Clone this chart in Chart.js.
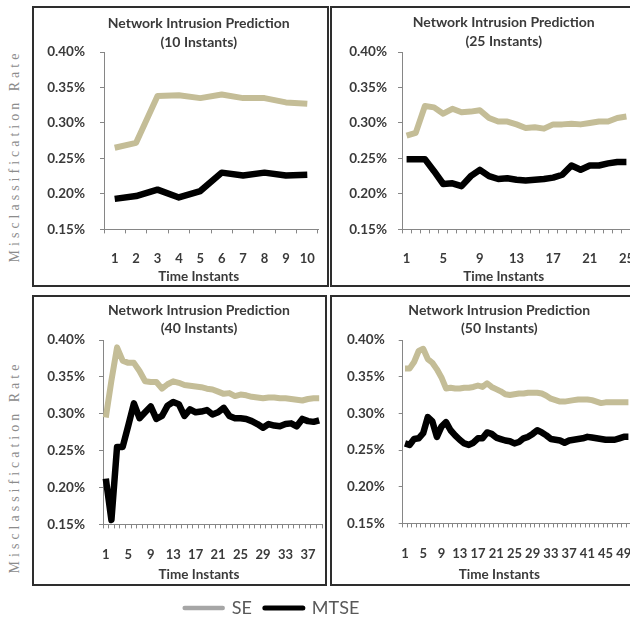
<!DOCTYPE html>
<html>
<head>
<meta charset="utf-8">
<script src="https://cdn.jsdelivr.net/npm/chart.js@4/dist/chart.umd.min.js"></script>
<style>
  html, body { margin: 0; padding: 0; background: #fff; overflow: hidden; }
  #page { position: relative; width: 630px; height: 620px; overflow: hidden; background: #fff; }
  .frame { position: absolute; box-sizing: border-box; border: 2px solid #2e2e2e; pointer-events: none; z-index: 2; }
  canvas.cv { position: absolute; z-index: 1; }
  .ylab {
    position: absolute; white-space: nowrap;
    font-family: "Liberation Serif", "DejaVu Serif", serif; font-size: 14px; letter-spacing: 4px;
    color: #8c8c8c; transform: translate(-50%, -50%) rotate(-90deg);
  }
</style>
</head>
<body>
<div id="page">
  <div class="ylab" style="left:15px; top:156px;">Misclassification Rate</div>
  <div class="ylab" style="left:15px; top:467px;">Misclassification Rate</div>

  <div class="frame" style="left:32px; top:6px; width:297px; height:281px;"></div>
  <div class="frame" style="left:330px; top:6px; width:330px; height:281px;"></div>
  <div class="frame" style="left:32px; top:295px; width:295px; height:291px;"></div>
  <div class="frame" style="left:330px; top:295px; width:330px; height:291px;"></div>

  <canvas class="cv" id="c10" style="left:35px; top:8px;"></canvas>
  <canvas class="cv" id="c25" style="left:333px; top:8px;"></canvas>
  <canvas class="cv" id="c40" style="left:35px; top:297px;"></canvas>
  <canvas class="cv" id="c50" style="left:333px; top:297px;"></canvas>
  <canvas class="cv" id="legend" width="630" height="100" style="left:0px; top:586px;"></canvas>
</div>

<script>
// Time instants on each horizontal axis
const instants10 = [1, 2, 3, 4, 5, 6, 7, 8, 9, 10];
const instants25 = [1, 2, 3, 4, 5, 6, 7, 8, 9, 10, 11, 12, 13, 14, 15, 16, 17, 18, 19, 20, 21, 22, 23, 24, 25];
const instants40 = [1, 2, 3, 4, 5, 6, 7, 8, 9, 10, 11, 12, 13, 14, 15, 16, 17, 18, 19, 20,
                    21, 22, 23, 24, 25, 26, 27, 28, 29, 30, 31, 32, 33, 34, 35, 36, 37, 38, 39];
const instants50 = [1, 2, 3, 4, 5, 6, 7, 8, 9, 10, 11, 12, 13, 14, 15, 16, 17, 18, 19, 20,
                    21, 22, 23, 24, 25, 26, 27, 28, 29, 30, 31, 32, 33, 34, 35, 36, 37, 38, 39, 40,
                    41, 42, 43, 44, 45, 46, 47, 48, 49, 50];

// Misclassification rate (%) – SE
const se10 = [0.265, 0.272, 0.338, 0.339, 0.335, 0.340, 0.335, 0.335, 0.329, 0.327];
const se25 = [0.282, 0.286, 0.324, 0.322, 0.313, 0.320, 0.315, 0.316, 0.318, 0.307,
              0.302, 0.302, 0.298, 0.293, 0.294, 0.292, 0.298, 0.298, 0.299, 0.298,
              0.300, 0.302, 0.302, 0.307, 0.309];
const se40 = [0.295, 0.345, 0.390, 0.372, 0.369, 0.369, 0.358, 0.344, 0.343, 0.343,
              0.334, 0.340, 0.344, 0.342, 0.339, 0.338, 0.337, 0.336, 0.334, 0.333,
              0.330, 0.327, 0.328, 0.324, 0.326, 0.325, 0.323, 0.322, 0.321, 0.322,
              0.322, 0.321, 0.321, 0.320, 0.319, 0.318, 0.320, 0.321, 0.321];
const se50 = [0.361, 0.361, 0.370, 0.385, 0.388, 0.374, 0.369, 0.360, 0.349, 0.334,
              0.335, 0.334, 0.334, 0.335, 0.335, 0.336, 0.338, 0.336, 0.341, 0.336,
              0.333, 0.330, 0.326, 0.325, 0.326, 0.327, 0.327, 0.328, 0.328, 0.328,
              0.327, 0.324, 0.320, 0.318, 0.316, 0.316, 0.317, 0.318, 0.319, 0.319,
              0.319, 0.318, 0.316, 0.314, 0.315, 0.315, 0.315, 0.315, 0.315, 0.315];

// Misclassification rate (%) – MTSE
const mtse10 = [0.193, 0.197, 0.206, 0.195, 0.204, 0.230, 0.226, 0.230, 0.226, 0.227];
const mtse25 = [0.249, 0.249, 0.249, 0.232, 0.214, 0.215, 0.211, 0.225, 0.234, 0.225,
                0.221, 0.222, 0.220, 0.219, 0.220, 0.221, 0.223, 0.227, 0.240, 0.234,
                0.240, 0.240, 0.243, 0.245, 0.245];
const mtse40 = [0.212, 0.156, 0.255, 0.255, 0.284, 0.314, 0.294, 0.302, 0.310, 0.293,
                0.297, 0.311, 0.316, 0.313, 0.297, 0.306, 0.302, 0.303, 0.305, 0.299,
                0.302, 0.308, 0.297, 0.294, 0.294, 0.293, 0.290, 0.286, 0.281, 0.286,
                0.284, 0.283, 0.286, 0.287, 0.283, 0.293, 0.290, 0.289, 0.291];
const mtse50 = [0.259, 0.257, 0.265, 0.266, 0.273, 0.295, 0.289, 0.268, 0.282, 0.288,
                0.277, 0.270, 0.264, 0.259, 0.257, 0.260, 0.266, 0.266, 0.274, 0.272,
                0.267, 0.265, 0.263, 0.262, 0.259, 0.261, 0.266, 0.268, 0.272, 0.277,
                0.274, 0.270, 0.265, 0.264, 0.263, 0.260, 0.263, 0.264, 0.265, 0.266,
                0.268, 0.267, 0.266, 0.265, 0.264, 0.264, 0.264, 0.266, 0.268, 0.268];

// Value axis ticks (%)
const rateTicks = [0.15, 0.20, 0.25, 0.30, 0.35, 0.40];

const seriesNames = ['SE', 'MTSE'];
const titleText = 'Network Intrusion Prediction';
const axisText = 'Time Instants';

const SE_COLOR = '#c4bd97';
const MTSE_COLOR = '#000000';
const TEXT_COLOR = '#3a3a3a';
const AXIS_COLOR = '#868686';
const FONT = 'Lato, "Open Sans", sans-serif';

// g: page-space geometry of one panel (canvas left, plot left/right, title centre,
// left edge of the value-axis box) plus vertical spacing of the panel's texts.
function panel(id, labels, se, mtse, count, g) {
  const canvas = document.getElementById(id);
  const titleRight = 2 * g.titleCenter - g.boxLeft;
  const width = Math.ceil(titleRight - g.canvasLeft);
  canvas.width = width;
  canvas.height = g.height;
  const padL = g.boxLeft - g.canvasLeft;
  const padR = width - (titleRight - g.canvasLeft);
  const yW = g.plotLeft - g.boxLeft;
  const spareW = titleRight - g.plotRight;

  return new Chart(canvas, {
    type: 'line',
    data: {
      labels: labels,
      datasets: [
        { label: seriesNames[0], data: se, borderColor: SE_COLOR, backgroundColor: SE_COLOR,
          borderWidth: 6, pointRadius: 0, tension: 0, borderJoinStyle: 'round', fill: false },
        { label: seriesNames[1], data: mtse, borderColor: MTSE_COLOR, backgroundColor: MTSE_COLOR,
          borderWidth: 6.5, pointRadius: 0, tension: 0, borderJoinStyle: 'round', fill: false }
      ]
    },
    options: {
      responsive: false,
      animation: false,
      events: [],
      layout: { padding: { left: padL, right: padR, top: 0, bottom: 0 } },
      plugins: {
        legend: { display: false },
        tooltip: { enabled: false },
        title: {
          display: true,
          text: [titleText, '(' + count + ' Instants)'],
          color: TEXT_COLOR,
          font: { family: FONT, size: 14, weight: 'bold', lineHeight: g.titleLH + 'px' },
          padding: { top: g.titleTop, bottom: g.titleBottom }
        },
        subtitle: {
          display: true,
          position: 'bottom',
          text: axisText,
          color: TEXT_COLOR,
          font: { family: FONT, size: 13.5, weight: 'bold', lineHeight: 1.2 },
          padding: { top: 0, bottom: g.subBottom }
        }
      },
      scales: {
        x: {
          offset: true,
          grid: { display: true, offset: true, drawOnChartArea: false, drawTicks: true,
                  tickLength: 4, color: AXIS_COLOR, lineWidth: 1 },
          border: { display: true, color: AXIS_COLOR, width: 1 },
          ticks: {
            autoSkip: false, maxRotation: 0, minRotation: 0, padding: g.xPad,
            color: TEXT_COLOR, font: { family: FONT, size: 13, weight: 'bold', lineHeight: 1.2 },
            callback: function (v, i) { return i % g.step === 0 ? this.getLabelForValue(v) : ''; }
          },
          afterFit: function (s) { s.height = g.xH; s.paddingLeft = 0; s.paddingRight = 0; }
        },
        y: {
          min: rateTicks[0],
          max: rateTicks[rateTicks.length - 1],
          grid: { display: true, drawOnChartArea: false, drawTicks: true, tickLength: 4,
                  color: AXIS_COLOR, lineWidth: 1 },
          border: { display: true, color: AXIS_COLOR, width: 1 },
          ticks: {
            stepSize: rateTicks[1] - rateTicks[0],
            padding: g.yPad,
            color: TEXT_COLOR,
            font: { family: FONT, size: 13.5, weight: 'bold' },
            callback: function (v) { return Number(v).toFixed(2) + '%'; }
          },
          afterFit: function (s) { s.width = yW; s.paddingTop = 0; s.paddingBottom = 0; }
        },
        // empty box on the right so the titles centre where the panel text sits
        spare: {
          type: 'linear',
          position: 'right',
          display: true,
          grid: { display: false },
          border: { display: false },
          ticks: { display: false },
          afterFit: function (s) { s.width = spareW; s.paddingTop = 0; s.paddingBottom = 0; }
        }
      }
    }
  });
}

panel('c10', instants10, se10, mtse10, 10,
  { canvasLeft: 35, plotLeft: 104, plotRight: 318, titleCenter: 198.7, boxLeft: 42, height: 277,
    titleLH: 19, titleTop: 5.5, titleBottom: 0.5, subBottom: 0, xH: 39.4, xPad: 17.2, yPad: 15, step: 1 });
panel('c25', instants25, se25, mtse25, 25,
  { canvasLeft: 333, plotLeft: 402, plotRight: 631, titleCenter: 503.7, boxLeft: 340, height: 277,
    titleLH: 19, titleTop: 5, titleBottom: 1, subBottom: 0, xH: 39.4, xPad: 17.2, yPad: 11, step: 4 });
panel('c40', instants40, se40, mtse40, 40,
  { canvasLeft: 35, plotLeft: 103, plotRight: 322, titleCenter: 199, boxLeft: 42, height: 287,
    titleLH: 18.3, titleTop: 3.85, titleBottom: 2.55, subBottom: 1.2, xH: 42.2, xPad: 18.2, yPad: 14, step: 4 });
panel('c50', instants50, se50, mtse50, 50,
  { canvasLeft: 333, plotLeft: 402.7, plotRight: 630.7, titleCenter: 499.3, boxLeft: 338, height: 287,
    titleLH: 18.3, titleTop: 3.85, titleBottom: 2.55, subBottom: 1.2, xH: 43.2, xPad: 18.2, yPad: 14, step: 4 });

// Shared legend for the four panels
new Chart(document.getElementById('legend'), {
  type: 'line',
  data: {
    labels: [],
    datasets: [
      { label: seriesNames[0], data: [], borderColor: '#a6a6a6' },
      { label: seriesNames[1], data: [], borderColor: MTSE_COLOR }
    ]
  },
  options: {
    responsive: false,
    animation: false,
    events: [],
    layout: { padding: { left: 0, right: 86, top: 0, bottom: 0 } },
    scales: { x: { display: false }, y: { display: false } },
    plugins: {
      tooltip: { enabled: false },
      legend: {
        display: true,
        position: 'top',
        labels: {
          usePointStyle: true,
          pointStyleWidth: 38,
          padding: 13,
          color: '#595959',
          font: { family: FONT, size: 18 },
          generateLabels: function (chart) {
            return chart.data.datasets.map(function (ds, i) {
              return {
                text: ds.label, datasetIndex: i, hidden: false,
                pointStyle: 'line', strokeStyle: ds.borderColor, fillStyle: ds.borderColor,
                lineWidth: i === 0 ? 4.5 : 5, lineCap: 'round', fontColor: '#595959'
              };
            });
          }
        }
      }
    }
  }
});
</script>
</body>
</html>
